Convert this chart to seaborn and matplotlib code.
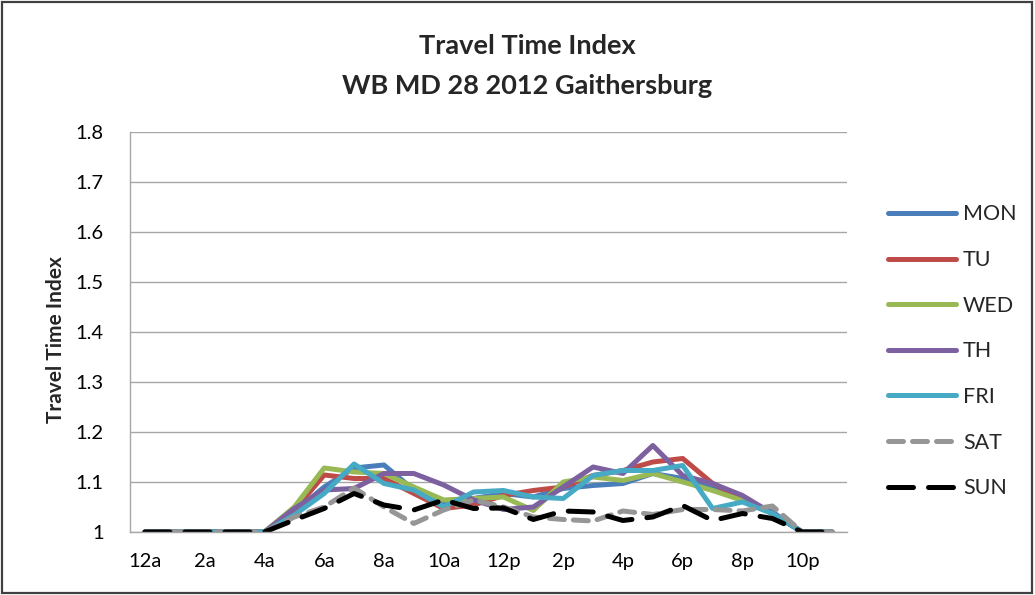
import matplotlib
matplotlib.use("Agg")
import matplotlib.pyplot as plt
import seaborn as sns
import pandas as pd
from matplotlib.patches import Rectangle

# Hourly travel time index, westbound MD 28, 2012
hours = list(range(24))
tick_labels = ["12a", "2a", "4a", "6a", "8a", "10a", "12p", "2p", "4p", "6p", "8p", "10p"]

mon = [1.0, 1.0, 1.0, 1.0, 1.0, 1.04, 1.09, 1.128, 1.134, 1.084, 1.057, 1.067,
       1.077, 1.07, 1.087, 1.093, 1.097, 1.117, 1.107, 1.087, 1.067, 1.04, 1.0, 1.0]
tu = [1.0, 1.0, 1.0, 1.0, 1.0, 1.044, 1.114, 1.107, 1.107, 1.077, 1.047, 1.054,
      1.073, 1.083, 1.09, 1.113, 1.123, 1.14, 1.147, 1.097, 1.067, 1.037, 1.0, 1.0]
wed = [1.0, 1.0, 1.0, 1.0, 1.0, 1.05, 1.128, 1.12, 1.117, 1.09, 1.064, 1.067,
       1.07, 1.043, 1.1, 1.11, 1.103, 1.117, 1.1, 1.083, 1.063, 1.037, 1.0, 1.0]
th = [1.0, 1.0, 1.0, 1.0, 1.0, 1.047, 1.084, 1.087, 1.117, 1.117, 1.094, 1.064,
      1.045, 1.05, 1.09, 1.13, 1.117, 1.173, 1.113, 1.097, 1.073, 1.037, 1.0, 1.0]
fri = [1.0, 1.0, 1.0, 1.0, 1.0, 1.034, 1.077, 1.136, 1.097, 1.084, 1.05, 1.08,
       1.083, 1.07, 1.067, 1.113, 1.123, 1.123, 1.133, 1.047, 1.06, 1.037, 1.0, 1.0]
sat = [1.0, 1.0, 1.0, 1.0, 1.0, 1.03, 1.05, 1.088, 1.05, 1.017, 1.044, 1.064,
       1.05, 1.03, 1.025, 1.022, 1.042, 1.035, 1.045, 1.045, 1.042, 1.052, 1.0, 1.0]
sun = [1.0, 1.0, 1.0, 1.0, 1.0, 1.024, 1.047, 1.077, 1.054, 1.044, 1.064, 1.047,
       1.048, 1.025, 1.042, 1.04, 1.023, 1.03, 1.053, 1.023, 1.037, 1.027, 1.0, 1.0]

series = {"MON": mon, "TU": tu, "WED": wed, "TH": th, "FRI": fri, "SAT": sat, "SUN": sun}
colors = {"MON": "#4A7EBB", "TU": "#BE4B48", "WED": "#98B954", "TH": "#7D60A0",
          "FRI": "#46AAC5", "SAT": "#969696", "SUN": "#000000"}
dashes = {"MON": None, "TU": None, "WED": None, "TH": None, "FRI": None,
          "SAT": (3.0, 1.8), "SUN": (5.0, 3.0)}

sns.set_theme(style="white")
plt.rcParams["font.family"] = ["Lato", "DejaVu Sans"]

fig = plt.figure(figsize=(10.35, 5.95), dpi=100)
ax = fig.add_axes([0.1256, 0.1059, 0.6928, 0.6723])

for name, vals in series.items():
    df = pd.DataFrame({"hour": hours, "tti": vals})
    sns.lineplot(data=df, x="hour", y="tti", ax=ax, color=colors[name],
                 linewidth=3.6, label=name, legend=False)
    l = ax.lines[-1]
    if dashes[name] is not None:
        l.set_dashes(dashes[name])
    l.set_solid_capstyle("round")
    l.set_dash_capstyle("round")

ax.set_xlim(-0.5, 23.5)
ax.set_ylim(1.0, 1.8)
ax.set_xticks(hours[::2])
ax.set_xticklabels(tick_labels)
ax.set_yticks([1.0, 1.1, 1.2, 1.3, 1.4, 1.5, 1.6, 1.7, 1.8])
ax.set_yticklabels(["1", "1.1", "1.2", "1.3", "1.4", "1.5", "1.6", "1.7", "1.8"])
ax.tick_params(axis="both", length=0, labelsize=14.5, colors="#000000")
ax.tick_params(axis="y", pad=19)
ax.tick_params(axis="x", pad=15)
ax.grid(axis="y", color="#a6a6a6", linewidth=1.0)
ax.set_axisbelow(True)
for side in ["top", "right"]:
    ax.spines[side].set_visible(False)
for side in ["left", "bottom"]:
    ax.spines[side].set_color("#a6a6a6")
    ax.spines[side].set_linewidth(1.0)

ax.set_xlabel("")
ax.set_ylabel("Travel Time Index", fontsize=15, fontweight="bold")
ax.yaxis.set_label_coords(-0.089, 0.48)

fig.text(0.509, 0.922, "Travel Time Index", ha="center", va="center",
         fontsize=19.5, fontweight="bold")
fig.text(0.509, 0.856, "WB MD 28 2012 Gaithersburg", ha="center", va="center",
         fontsize=19.5, fontweight="bold")

handles, labels = ax.get_legend_handles_labels()
leg = fig.legend(handles, labels, loc="upper left", bbox_to_anchor=(0.839, 0.689),
                 frameon=False, fontsize=15.5, handlelength=3.16, handletextpad=0.33,
                 labelspacing=1.19)

fig.patches.append(Rectangle((0.002, 0.003), 0.995, 0.994, transform=fig.transFigure,
                             fill=False, edgecolor="#404040", linewidth=1.6))

fig.savefig("out.png", dpi=100)
